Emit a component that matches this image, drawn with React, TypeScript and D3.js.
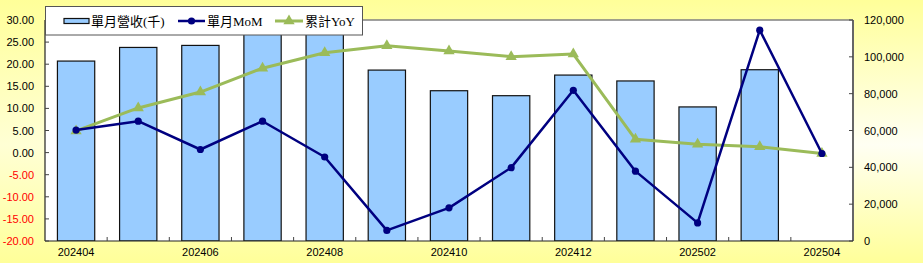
import React from "react";
import * as d3 from "d3";

const categories = ["202404","202405","202406","202407","202408","202409","202410","202411","202412","202501","202502","202503","202504"];
const revenue: (number | null)[] = [97700, 105100, 106200, 126000, 128000, 92800, 81600, 78900, 90100, 86900, 72800, 93000, null];
const mom = [5.1, 7.1, 0.7, 7.1, -1.0, -17.6, -12.5, -3.4, 14.1, -4.2, -15.9, 27.7, -0.2];
const yoy = [4.9, 10.1, 13.7, 19.1, 22.6, 24.2, 23.0, 21.7, 22.3, 3.0, 1.9, 1.3, -0.2];
const leftTicks = [-20, -15, -10, -5, 0, 5, 10, 15, 20, 25, 30];
const rightTicks = [0, 20000, 40000, 60000, 80000, 100000, 120000];
const legendLabels = ["單月營收(千)", "單月MoM", "累計YoY"];

const W = 923, H = 263;
const L = 45, R = 853, T = 20, B = 241;

export default function App() {
  const x = d3.scaleBand<string>().domain(categories).range([L, R]).paddingInner(0.4).paddingOuter(0.2);
  const xc = (c: string) => (x(c) as number) + x.bandwidth() / 2;
  const band = (R - L) / categories.length;
  const yL = d3.scaleLinear().domain([-20, 30]).range([B, T]);
  const yR = d3.scaleLinear().domain([0, 120000]).range([B, T]);
  const line = d3.line<number>().x((_, i) => xc(categories[i])).y((d) => yL(d));
  const tri = d3.symbol().type(d3.symbolTriangle).size(55)();
  const serif = "'Liberation Serif', 'Noto Sans CJK TC', serif";
  const sans = "'Liberation Sans', Arial, sans-serif";

  return (
    <svg width={W} height={H} style={{ position: "absolute", left: 0, top: 0 }}>
      <defs>
        <linearGradient id="bg" x1="0" y1="0" x2="0" y2="1">
          <stop offset="0" stopColor="#FFFF99" />
          <stop offset="0.55" stopColor="#FFFFF4" />
          <stop offset="1" stopColor="#FFFF99" />
        </linearGradient>
        <linearGradient id="bgh" x1="0" y1="0" x2="1" y2="0">
          <stop offset="0" stopColor="#FFFF99" stopOpacity="0.35" />
          <stop offset="0.5" stopColor="#FFFF99" stopOpacity="0.1" />
          <stop offset="1" stopColor="#FFFF99" stopOpacity="0" />
        </linearGradient>
        <clipPath id="plot">
          <rect x={L} y={T} width={R - L} height={B - T} />
        </clipPath>
      </defs>
      <rect x={0} y={0} width={W} height={H} fill="url(#bg)" />
      <rect x={0} y={0} width={W} height={H} fill="url(#bgh)" />
      <rect x={L} y={T} width={R - L} height={B - T} fill="#FFFFFF" />

      {/* bars */}
      <g clipPath="url(#plot)">
        {categories.map((c, i) =>
          revenue[i] == null ? null : (
            <rect key={c} x={x(c)} y={yR(revenue[i] as number)} width={x.bandwidth()}
              height={B - yR(revenue[i] as number)} fill="#99CCFF" stroke="#111" strokeWidth={1.2} />
          )
        )}
      </g>

      {/* plot border */}
      <line x1={L} y1={T} x2={R} y2={T} stroke="#808080" strokeWidth={1.5} />
      <line x1={R} y1={T} x2={R} y2={B} stroke="#666" strokeWidth={2} />
      <line x1={L} y1={T} x2={L} y2={B} stroke="#222" strokeWidth={1.2} />
      <line x1={L} y1={B} x2={R} y2={B} stroke="#222" strokeWidth={1.2} />

      {/* left ticks */}
      {leftTicks.map((t) => (
        <g key={t}>
          <line x1={L} x2={L + 4} y1={yL(t)} y2={yL(t)} stroke="#444" />
          <text x={34} y={yL(t) + 4} textAnchor="end" fontSize={11} fontFamily={sans}
            fill={t < 0 ? "#FF0000" : "#000"}>{t.toFixed(2)}</text>
        </g>
      ))}
      {/* right ticks */}
      {rightTicks.map((t) => (
        <g key={t}>
          <line x1={R - 4} x2={R} y1={yR(t)} y2={yR(t)} stroke="#444" />
          <text x={864} y={yR(t) + 4} textAnchor="start" fontSize={11} fontFamily={sans}
            fill="#000">{d3.format(",")(t)}</text>
        </g>
      ))}
      {/* x ticks */}
      {categories.slice(1).map((c, i) => (
        <line key={c} x1={L + band * (i + 1)} x2={L + band * (i + 1)} y1={B} y2={B - 4} stroke="#444" />
      ))}
      {categories.map((c, i) =>
        i % 2 === 0 ? (
          <text key={c} x={xc(c)} y={256} textAnchor="middle" fontSize={11} fontFamily={sans}>{c}</text>
        ) : null
      )}

      {/* YoY line */}
      <path d={line(yoy) as string} fill="none" stroke="#9BBB59" strokeWidth={3} strokeLinejoin="round" />
      {yoy.map((v, i) => (
        <path key={i} d={tri as string} transform={`translate(${xc(categories[i])},${yL(v)})`} fill="#9BBB59" />
      ))}
      {/* MoM line */}
      <path d={line(mom) as string} fill="none" stroke="#000080" strokeWidth={2.5} strokeLinejoin="round" />
      {mom.map((v, i) => (
        <circle key={i} cx={xc(categories[i])} cy={yL(v)} r={3.6} fill="#000080" />
      ))}

      {/* legend */}
      <rect x={45.5} y={6.5} width={317} height={28.5} fill="#FFFFFF" stroke="#555" strokeWidth={1} />
      <rect x={64} y={18.5} width={25} height={5} fill="#99CCFF" stroke="#111" strokeWidth={1.2} />
      <text x={91} y={26} fontSize={13} fontFamily={serif}>{legendLabels[0]}</text>
      <line x1={178} x2={205} y1={21} y2={21} stroke="#000080" strokeWidth={2.5} />
      <circle cx={191.5} cy={21} r={3.6} fill="#000080" />
      <text x={207} y={26} fontSize={13} fontFamily={serif}>{legendLabels[1]}</text>
      <line x1={275} x2={303} y1={21} y2={21} stroke="#9BBB59" strokeWidth={3} />
      <path d={tri as string} transform="translate(289,21)" fill="#9BBB59" />
      <text x={305} y={26} fontSize={13} fontFamily={serif}>{legendLabels[2]}</text>
    </svg>
  );
}
